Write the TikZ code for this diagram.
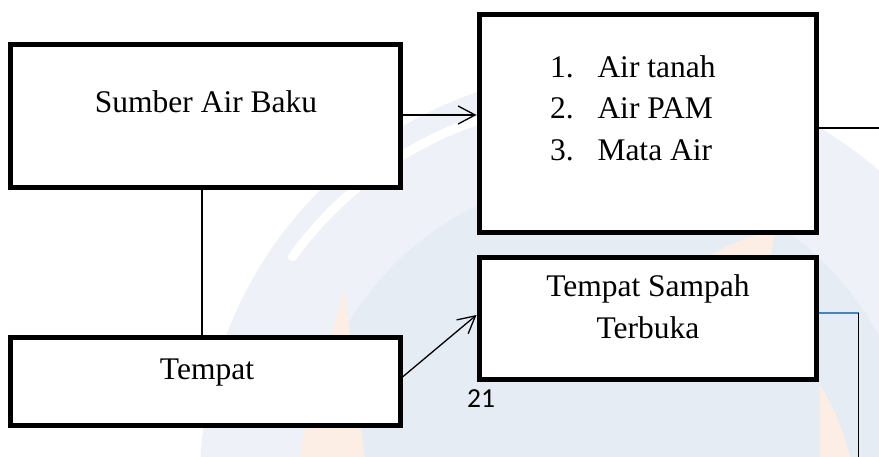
\documentclass[tikz,border=0pt]{standalone}
\usepackage{fontspec}
\setmainfont{Liberation Serif}
\newfontfamily\calib{Carlito}
\usetikzlibrary{arrows.meta}

\definecolor{wmlight}{RGB}{238,242,248}
\definecolor{wmblue}{RGB}{230,236,244}
\definecolor{wmorange}{RGB}{252,238,228}
\definecolor{linkblue}{RGB}{79,129,189}

\tikzset{
  box/.style={draw=black, line width=5pt, fill=white, inner sep=0pt, minimum width=#1},
  boxh/.style={minimum height=#1},
  lbl/.style={font=\fontsize{31.5}{41.4}\selectfont, inner sep=0pt, anchor=base},
  item/.style={font=\fontsize{31.5}{41.4}\selectfont, inner sep=0pt, anchor=base west},
  conn/.style={draw=black, line width=1.3pt},
  arr/.style={conn, -{Straight Barb[length=17pt,width=18pt]}},
  bluelink/.style={draw=linkblue, line width=1.6pt},
}

\begin{document}
\begin{tikzpicture}[x=1pt, y=-1pt]
\useasboundingbox (0,0) rectangle (879,457);

% faint background swirl
\begin{scope}
  \clip (0,0) rectangle (879,457);
  \fill[wmlight] (610,480) circle[radius=410];
  \fill[wmblue] (610,480) circle[radius=305];
  \draw[white, line width=9pt, line cap=round]
        (600,480) ++(216:380) arc[start angle=216, end angle=251, radius=380];
  \fill[wmorange] (345,290) .. controls (322,360) and (306,420) .. (300,457)
        -- (365,457) .. controls (356,400) and (350,340) .. (345,290);
  \fill[wmorange] (700,262) .. controls (725,245) and (750,236) .. (775,230)
        -- (770,262) -- cycle;
  \fill[wmorange] (820,385) .. controls (835,410) and (845,435) .. (850,457)
        -- (820,457) -- cycle;
\end{scope}

% boxes
\node[box=390pt, boxh=143pt] (A) at (205,116.5) {};
\node[box=337pt, boxh=218pt] (B) at (647.5,123.5) {};
\node[box=337pt, boxh=121pt] (C) at (647.5,318.5) {};
\node[box=390pt, boxh=87.5pt] (D) at (205,381.75) {};

% texts
\node[lbl] (tA) at (206,112.3) {Sumber Air Baku};
\node[item] (n1) at (550,77.3) {1.};
\node[item] (l1) at (597.3,77.3) {Air tanah};
\node[item] (n2) at (550,118.7) {2.};
\node[item] (l2) at (597.3,118.7) {Air PAM};
\node[item] (n3) at (550,160.1) {3.};
\node[item] (l3) at (597.3,160.1) {Mata Air};
\node[lbl] (tC1) at (648,297) {Tempat Sampah};
\node[lbl] (tC2) at (648,338) {Terbuka};
\node[lbl] (tD) at (207,380) {Tempat};
\node[font=\calib\fontsize{27.5}{33}\selectfont, inner sep=0pt, anchor=base west] (pg) at (467,407) {21};

% connectors
\coordinate (vx) at (202,0);
\draw[conn] (A.south -| vx) -- (D.north -| vx);
\draw[arr] (A.east |- 0,115) -- (B.west |- 0,115);
\draw[arr] (D.east |- 0,377) -- (C.west |- 0,315);
\coordinate (bR) at (879,128);
\draw[conn] (B.east |- bR) -- (bR);
\coordinate (cR) at (858.5,313);
\coordinate (cB) at (858.5,457);
\draw[bluelink] (C.east |- cR) -- (cR);
\draw[conn] (cR) -- (cB);
\end{tikzpicture}
\end{document}
